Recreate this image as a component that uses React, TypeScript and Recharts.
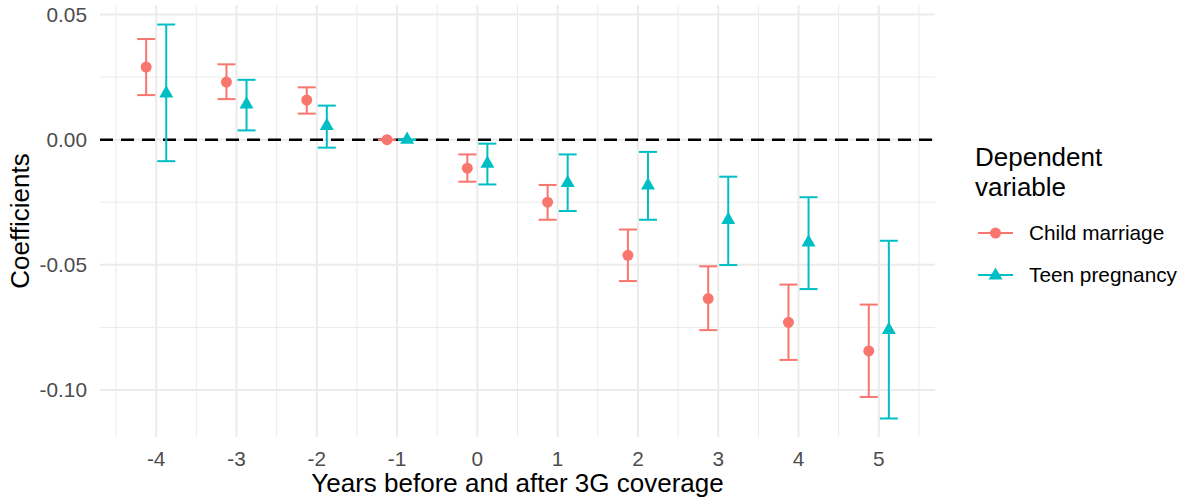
import React from "react";
import {
  ScatterChart,
  Scatter,
  XAxis,
  YAxis,
  CartesianGrid,
  ReferenceLine,
  ErrorBar,
  Legend,
} from "recharts";

// event-study coefficients
const years = [-4, -3, -2, -1, 0, 1, 2, 3, 4, 5];

const childEst = [0.029, 0.023, 0.0158, 0, -0.0114, -0.025, -0.0462, -0.0635, -0.073, -0.0844];
const childLo = [0.0178, 0.0162, 0.0104, 0, -0.0168, -0.032, -0.0565, -0.0761, -0.088, -0.1028];
const childHi = [0.0402, 0.0301, 0.0209, 0, -0.0059, -0.0181, -0.0359, -0.0506, -0.0579, -0.0659];

const teenEst = [0.0185, 0.0141, 0.0055, 0, -0.0096, -0.0173, -0.0183, -0.0321, -0.0411, -0.076];
const teenLo = [-0.0086, 0.0037, -0.0032, 0, -0.0179, -0.0285, -0.032, -0.0501, -0.0597, -0.1114];
const teenHi = [0.046, 0.0239, 0.0136, 0, -0.0016, -0.0059, -0.0049, -0.0148, -0.023, -0.0404];

const yTicks = [-0.1, -0.05, 0, 0.05];
const yMinor = [-0.075, -0.025, 0.025];
const xMinor = [-4.5, -3.5, -2.5, -1.5, -0.5, 0.5, 1.5, 2.5, 3.5, 4.5, 5.5];

const RED = "#F8766D";
const TEAL = "#00BFC4";
const FONT = "'Liberation Sans', Arial, sans-serif";
const DODGE = 0.125; // position_dodge half-offset

const makeSeries = (est: number[], lo: number[], hi: number[], shift: number) =>
  years.map((yr, i) => ({
    x: yr + shift,
    y: est[i],
    err: [est[i] - lo[i], hi[i] - est[i]],
  }));

const childData = makeSeries(childEst, childLo, childHi, -DODGE);
const teenData = makeSeries(teenEst, teenLo, teenHi, DODGE);

const Dot = (props: any) => <circle cx={props.cx} cy={props.cy} r={5.5} fill={RED} />;

const Tri = (props: any) => {
  const { cx, cy } = props;
  const hw = 7;
  return (
    <path
      d={`M${cx},${cy - 8.2} L${cx + hw},${cy + 4.1} L${cx - hw},${cy + 4.1} Z`}
      fill={TEAL}
    />
  );
};

const legendTitle = ["Dependent", "variable"];
const legendRows = [
  { label: "Child marriage", color: RED, shape: "circle" },
  { label: "Teen pregnancy", color: TEAL, shape: "triangle" },
];

const LegendBox = () => (
  <div style={{ fontFamily: FONT, color: "#000" }}>
    {legendTitle.map((t) => (
      <div key={t} style={{ fontSize: 26, lineHeight: "30px", height: 30 }}>
        {t}
      </div>
    ))}
    <div style={{ marginTop: 10 }}>
      {legendRows.map((r) => (
        <div key={r.label} style={{ display: "flex", alignItems: "center", height: 42 }}>
          <svg width={40} height={20} style={{ marginLeft: 2 }}>
            <line x1={1} x2={36} y1={10} y2={10} stroke={r.color} strokeWidth={2} />
            {r.shape === "circle" ? (
              <circle cx={18.5} cy={10} r={5.5} fill={r.color} />
            ) : (
              <path d="M18.5,2.5 L25.5,14.5 L11.5,14.5 Z" fill={r.color} />
            )}
          </svg>
          <span style={{ fontSize: 20.8, marginLeft: 12 }}>{r.label}</span>
        </div>
      ))}
    </div>
  </div>
);

export default function App() {
  return (
    <div style={{ position: "absolute", left: 0, top: 0, background: "#fff" }}>
      <ScatterChart
        width={1185}
        height={498}
        margin={{ top: 5, right: 250, bottom: 0, left: 0 }}
        style={{ fontFamily: FONT }}
      >
        <CartesianGrid
          stroke="#EBEBEB"
          strokeWidth={1}
          horizontalValues={yMinor}
          verticalValues={xMinor}
        />
        <CartesianGrid
          stroke="#EBEBEB"
          strokeWidth={2}
          horizontalValues={yTicks}
          verticalValues={years}
        />
        <XAxis
          type="number"
          dataKey="x"
          domain={[-4.7, 5.7]}
          ticks={years}
          allowDataOverflow
          axisLine={false}
          tickLine={false}
          tickSize={0}
          tickMargin={14}
          height={61}
          tick={{ fill: "#4D4D4D", fontSize: 20.8 }}
          label={{
            value: "Years before and after 3G coverage",
            position: "insideBottom",
            offset: 6,
            fill: "#000",
            fontSize: 26,
          }}
        />
        <YAxis
          type="number"
          dataKey="y"
          domain={[-0.1188, 0.0538]}
          ticks={yTicks}
          allowDataOverflow
          axisLine={false}
          tickLine={false}
          tickSize={0}
          tickMargin={13}
          width={100}
          tickFormatter={(v: number) => v.toFixed(2)}
          tick={{ fill: "#4D4D4D", fontSize: 20.8 }}
          label={{
            value: "Coefficients",
            angle: -90,
            position: "center",
            dx: -30,
            fill: "#000",
            fontSize: 26,
          }}
        />
        <ReferenceLine y={0} stroke="#000" strokeWidth={2.5} strokeDasharray="13 8" />
        <Scatter data={childData} shape={Dot} isAnimationActive={false}>
          <ErrorBar dataKey="err" direction="y" width={9} stroke={RED} strokeWidth={2} />
        </Scatter>
        <Scatter data={teenData} shape={Tri} isAnimationActive={false}>
          <ErrorBar dataKey="err" direction="y" width={9} stroke={TEAL} strokeWidth={2} />
        </Scatter>
        <Legend
          layout="vertical"
          align="center"
          verticalAlign="middle"
          content={() => <LegendBox />}
          wrapperStyle={{ left: 975, top: 142, width: 210 }}
        />
      </ScatterChart>
    </div>
  );
}
